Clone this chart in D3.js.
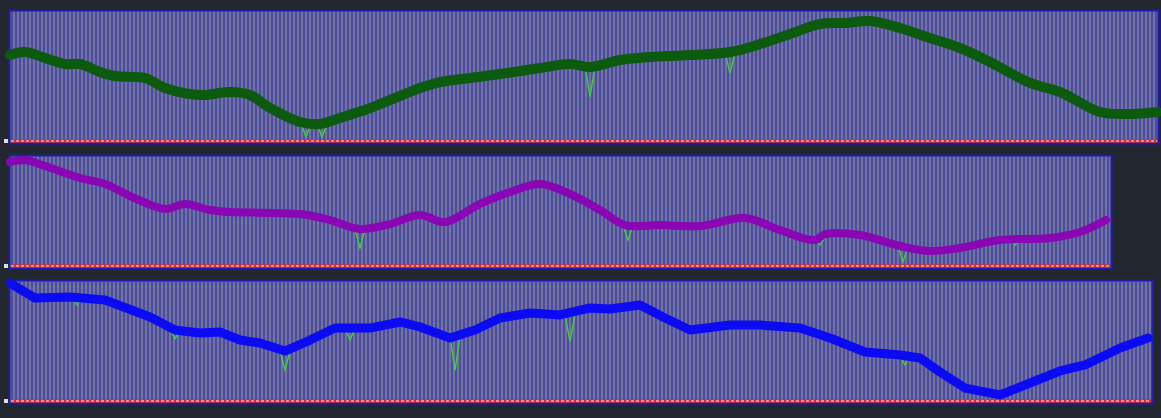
<!DOCTYPE html>
<html><head><meta charset="utf-8">
<script src="https://cdn.jsdelivr.net/npm/d3@7"></script>
<style>html,body{margin:0;padding:0;background:#22262e;}svg{display:block;}</style>
</head><body>
<svg id="c" width="1161" height="418"></svg>
<script>
// ---- data (time t, value 0-100) ----
const greenT = [1,16,36,56,71,91,106,136,156,191,221,241,261,291,311,331,361,381,411,431,461,491,531,561,581,611,641,681,721,751,781,811,836,861,891,921,951,981,1021,1051,1091,1121,1149];
const greenV = [65.6,67.9,63.4,58.8,58.8,52.7,49.6,48.1,40.5,35.1,37.4,35.1,25.2,14.5,13.0,17.6,25.2,31.3,40.5,45.0,48.1,51.1,55.7,58.8,56.5,61.8,64.1,65.6,67.9,74.0,81.7,89.3,90.1,91.6,86.3,78.6,71.0,60.3,44.3,37.4,22.1,20.6,22.1];
const greenSpikeT = [297,313,581,721];
const greenSpikeTip = [3.0,3.0,33.6,51.9];
const greenSpikeBase = [13.5,13.0,57.5,67.5];

const purpleT = [1,16,36,71,96,121,156,176,201,221,291,321,351,381,411,436,471,501,531,561,591,616,651,691,736,771,806,816,851,891,921,951,991,1041,1071,1097];
const purpleV = [93.7,95.5,90.1,79.3,73.9,63.1,51.4,55.9,50.5,48.6,46.8,41.4,33.3,37.8,45.9,39.6,55.9,66.7,73.9,64.9,50.5,36.9,36.9,36.0,43.2,32.4,23.4,28.8,27.9,18.0,13.5,16.2,23.4,25.2,30.6,41.4];
const purpleSpikeT = [351,619,811,894,1006];
const purpleSpikeTip = [16.2,23.4,18.9,3.6,18.9];
const purpleSpikeBase = [33.3,36.9,25.5,18.0,24.5];

const blueT = [1,26,61,96,141,166,191,211,231,251,276,301,326,361,391,411,441,466,491,521,551,581,601,631,656,681,721,751,791,821,856,891,911,931,956,991,1021,1051,1076,1111,1139];
const blueV = [97.5,85.1,85.9,83.5,69.4,58.7,56.2,57.0,50.4,47.9,41.3,50.4,60.3,60.3,65.3,61.2,52.1,58.7,68.6,72.7,71.1,76.9,76.0,79.3,68.6,58.7,62.8,62.8,60.3,52.1,40.5,38.0,35.5,24.0,10.7,5.0,14.9,24.8,29.8,43.8,52.1];
const blueSpikeT = [68,88,166,276,341,446,561,896];
const blueSpikeTip = [79.3,81.0,51.5,25.6,50.4,25.6,48.8,29.8];
const blueSpikeBase = [85.9,85.0,58.7,41.3,60.3,53.5,72.0,37.5];

const panels = [
  {T: greenT, V: greenV, sT: greenSpikeT, sTip: greenSpikeTip, sBase: greenSpikeBase, color: "#0b5a0d", width: 10, curve: d3.curveCatmullRom, x0: 9, x1: 1159, top: 10, base: 141},
  {T: purpleT, V: purpleV, sT: purpleSpikeT, sTip: purpleSpikeTip, sBase: purpleSpikeBase, color: "#8a05b4", width: 8, curve: d3.curveCatmullRom, x0: 9, x1: 1112, top: 155, base: 266},
  {T: blueT, V: blueV, sT: blueSpikeT, sTip: blueSpikeTip, sBase: blueSpikeBase, color: "#0a0af5", width: 9, curve: d3.curveLinear, x0: 9, x1: 1153, top: 280, base: 401}
];

const svg = d3.select("#c");
const defs = svg.append("defs");
const pat = defs.append("pattern").attr("id","stripes").attr("patternUnits","userSpaceOnUse")
  .attr("width",4).attr("height",10);
pat.append("rect").attr("width",4).attr("height",10).attr("fill","#4b4bac");
pat.append("rect").attr("x",1).attr("width",2).attr("height",10).attr("fill","#737396");

const x = d3.scaleLinear().domain([0, 1150]).range([9, 1159]);

panels.forEach(p => {
  const y = d3.scaleLinear().domain([0, 100]).range([p.base, p.top]);
  const g = svg.append("g");
  g.append("rect").attr("x", p.x0).attr("y", p.top).attr("width", p.x1 - p.x0).attr("height", p.base + 3 - p.top)
    .attr("fill", "url(#stripes)");
  g.append("rect").attr("x", p.x0 + 0.5).attr("y", p.top + 0.5).attr("width", p.x1 - p.x0 - 1).attr("height", p.base + 2 - p.top)
    .attr("fill", "none").attr("stroke", "#1e1ea8").attr("stroke-width", 2);
  g.append("line").attr("x1", p.x0 + 2).attr("x2", p.x1 - 2).attr("y1", p.base).attr("y2", p.base)
    .attr("stroke", "#e82424").attr("stroke-width", 3);
  g.append("line").attr("x1", p.x0 + 2).attr("x2", p.x1 - 2).attr("y1", p.base).attr("y2", p.base)
    .attr("stroke", "#ffe8e8").attr("stroke-width", 1).attr("stroke-dasharray", "3,2");
  g.append("rect").attr("x", p.x0 - 5).attr("y", p.base - 2).attr("width", 4).attr("height", 4).attr("fill", "#e0e0e0");

  const main = p.T.map((t, i) => [t, p.V[i]]);
  const lineMain = d3.line().curve(p.curve).x(d => x(d[0])).y(d => y(d[1]));
  // thin detail line following the trend
  g.append("path").datum(main).attr("d", lineMain)
    .attr("fill", "none").attr("stroke", "#3fcf3f").attr("stroke-width", 1.4);
  // narrow spikes of the thin line
  const spikeLine = d3.line().x(d => x(d[0])).y(d => y(d[1]));
  p.sT.forEach((t, i) => {
    g.append("path").datum([[t - 5, p.sBase[i]], [t, p.sTip[i]], [t + 5, p.sBase[i]]])
      .attr("d", spikeLine).attr("fill", "none").attr("stroke", "#3fcf3f").attr("stroke-width", 1.4);
  });
  g.append("path").datum(main).attr("d", lineMain)
    .attr("fill", "none").attr("stroke", p.color).attr("stroke-width", p.width)
    .attr("stroke-linejoin", "round").attr("stroke-linecap", "round");
});
</script>
</body></html>
